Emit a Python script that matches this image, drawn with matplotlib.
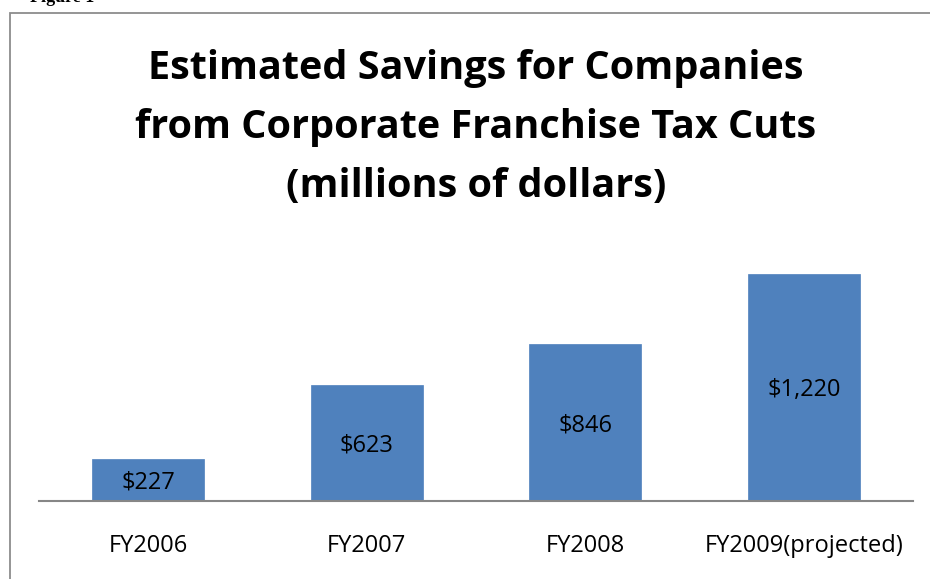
import matplotlib
matplotlib.use("Agg")
import matplotlib.pyplot as plt
from matplotlib.patches import Rectangle
from matplotlib.transforms import offset_copy

categories = ["FY2006", "FY2007", "FY2008", "FY2009(projected)"]
values = [227, 623, 846, 1220]
labels = ["$227", "$623", "$846", "$1,220"]
title = "Estimated Savings for Companies\nfrom Corporate Franchise Tax Cuts\n(millions of dollars)"

W, H = 930, 579
fig = plt.figure(figsize=(W / 100, H / 100), dpi=100)

# chart border
fig.patches.append(Rectangle((10 / W, -0.1), 1.2, 1 - 13 / H + 0.1, transform=fig.transFigure,
                             fill=False, edgecolor="#8c8c8c", linewidth=1.3))
# cropped caption at the very top
fig.text(30 / W, 1 - 2 / H, "Figure 1", family="Liberation Serif", weight="bold",
         fontsize=13, va="baseline", ha="left")

ax_left, ax_right = 39, 913
ax_bottom = 501
ymax = 1400
ppu = (501 - 274) / 1220.0
ax_top = ax_bottom - ymax * ppu
ax = fig.add_axes([ax_left / W, 1 - ax_bottom / H, (ax_right - ax_left) / W, (ax_bottom - ax_top) / H])
ax.set_xlim(-0.5, len(categories) - 0.5)
ax.set_ylim(0, ymax)
x = range(len(categories))
bars = ax.bar(x, values, width=0.513, color="#4F81BD", edgecolor="#4F81BD", linewidth=0.5)
tr = offset_copy(ax.transData, fig=fig, x=0, y=-2, units="points")
for xi, v, lab in zip(x, values, labels):
    ax.text(xi, v / 2, lab, ha="center", va="center", fontsize=17, family="Open Sans",
            color="black", transform=tr)
for s in ["top", "right", "left"]:
    ax.spines[s].set_visible(False)
ax.spines["bottom"].set_color("#868686")
ax.spines["bottom"].set_linewidth(1.5)
ax.set_yticks([])
ax.set_xticks(list(x))
ax.set_xticklabels(categories, fontsize=17, family="Open Sans")
ax.tick_params(axis="x", length=0, pad=24)

fig.text(476 / W, 1 - 49 / H, title, ha="center", va="top", fontsize=28.5, weight="bold",
         family="Open Sans", linespacing=1.66)

fig.savefig("out.png", dpi=100)
